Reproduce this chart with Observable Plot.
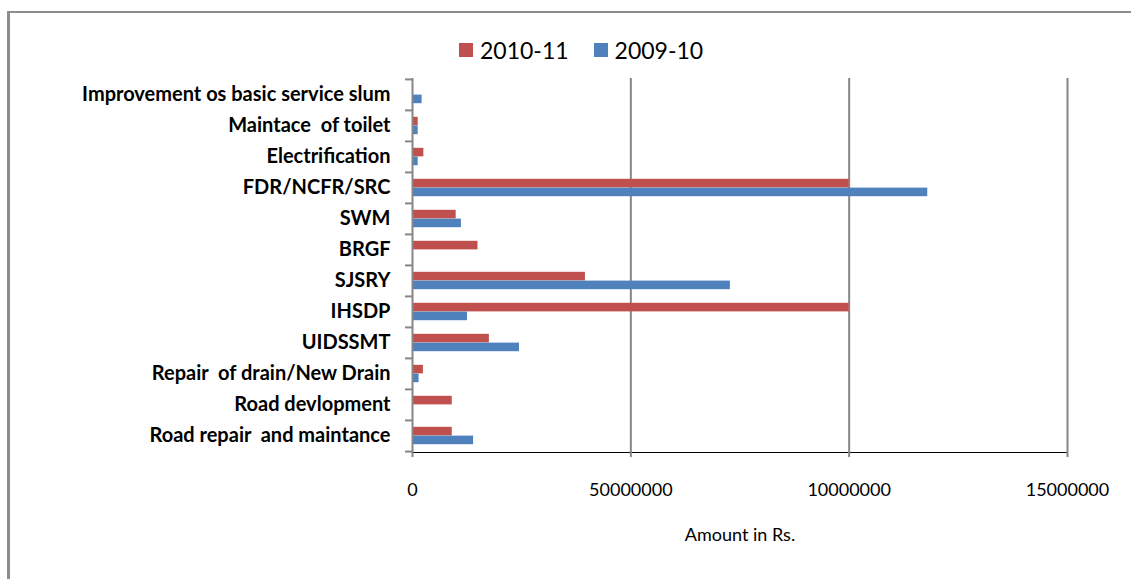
<!DOCTYPE html>
<html><head><meta charset="utf-8">
<script src="https://cdn.jsdelivr.net/npm/d3@7"></script>
<script src="https://cdn.jsdelivr.net/npm/@observablehq/plot@0.6"></script>
<style>
body{margin:0;background:#fff;font-family:Lato,"Open Sans",sans-serif;}
#wrap{position:relative;width:1131px;height:579px;overflow:hidden;background:#fff;}
#frame{position:absolute;left:7px;top:11px;width:1300px;height:700px;border-left:3px solid #8c8c8c;border-top:2px solid #8c8c8c;}
#legend{position:absolute;left:459px;top:35px;display:flex;align-items:center;font-size:23px;color:#000;line-height:30px;white-space:pre;}
#legend .sw{width:14px;height:14px;display:inline-block;margin-right:7px;}
#legend .item{display:flex;align-items:center;margin-right:25px;}
#chart{position:absolute;left:0;top:70px;}
</style></head><body>
<div id="wrap"><div id="frame"></div><div id="legend"></div><div id="chart"></div></div>
<script>
// Categories, top to bottom
const categories = [
  "Improvement os basic service slum",
  "Maintace  of toilet",
  "Electrification",
  "FDR/NCFR/SRC",
  "SWM",
  "BRGF",
  "SJSRY",
  "IHSDP",
  "UIDSSMT",
  "Repair  of drain/New Drain",
  "Road devlopment",
  "Road repair  and maintance"
];
const series = ["2010-11", "2009-10"];
const values2010_11 = [0, 1300000, 2600000, 100000000, 10000000, 15000000, 39600000, 100000000, 17600000, 2500000, 9100000, 9100000];
const values2009_10 = [2200000, 1300000, 1300000, 118000000, 11200000, 0, 72800000, 12600000, 24500000, 1500000, 0, 14000000];
const seriesColors = ["#C0504D", "#4F81BD"];
const xTicks = [0, 50000000, 100000000, 150000000];
const xTickLabels = ["0", "50000000", "10000000", "15000000"];
const xTitle = "Amount in Rs.";

const rowsA = categories.map((c, i) => ({category: c, series: series[0], value: values2010_11[i]}));
const rowsB = categories.map((c, i) => ({category: c, series: series[1], value: values2009_10[i]}));

// legend
const leg = document.getElementById("legend");
series.forEach((s, i) => {
  const it = document.createElement("span");
  it.className = "item";
  it.innerHTML = `<span class="sw" style="background:${seriesColors[i]}"></span><span>${s}</span>`;
  leg.appendChild(it);
});

const gray = "#868686";
const plotH = 374;
const bandH = plotH / categories.length;

const chart = Plot.plot({
  width: 1131,
  height: 492,
  marginTop: 8,
  marginBottom: 110,
  marginLeft: 412,
  marginRight: 64,
  style: {fontFamily: "Lato, 'Open Sans', sans-serif", fontSize: "18px", background: "transparent", color: "#000"},
  x: {domain: [0, 150000000], ticks: xTicks, tickFormat: d => xTickLabels[xTicks.indexOf(d)], tickSize: 5, tickPadding: 26, label: xTitle, labelAnchor: "center", labelOffset: 88, labelArrow: false, line: true},
  y: {domain: categories, padding: 0, tickSize: 0, tickPadding: 22, label: null},
  marks: [
    Plot.ruleX(xTicks.slice(1), {stroke: gray, strokeWidth: 2}),
    Plot.barX(rowsA, {x: "value", y: "category", fill: seriesColors[0], insetTop: 6.8, insetBottom: 15.6}),
    Plot.barX(rowsB, {x: "value", y: "category", fill: seriesColors[1], insetTop: 15.6, insetBottom: 6.8}),
    Plot.ruleX([0], {stroke: gray, strokeWidth: 2}),
    Plot.ruleY(categories, {y: d => d, x1: 0, x2: 0, insetLeft: -7, dy: -bandH / 2, stroke: gray, strokeWidth: 2}),
    Plot.ruleY(categories.slice(-1), {y: d => d, x1: 0, x2: 0, insetLeft: -7, dy: bandH / 2, stroke: gray, strokeWidth: 2})
  ]
});
document.getElementById("chart").appendChild(chart);

const svg = d3.select(chart);
svg.selectAll('g[aria-label^="y-axis"] text').style("font-size", "20px").style("font-weight", "700").style("white-space", "pre");
svg.selectAll('g[aria-label^="x-axis"] text').style("font-size", "18px");
svg.selectAll('g[aria-label^="x-axis"] path, g[aria-label^="x-axis"] line').attr("stroke", gray).attr("stroke-width", 2);
</script>
</body></html>
